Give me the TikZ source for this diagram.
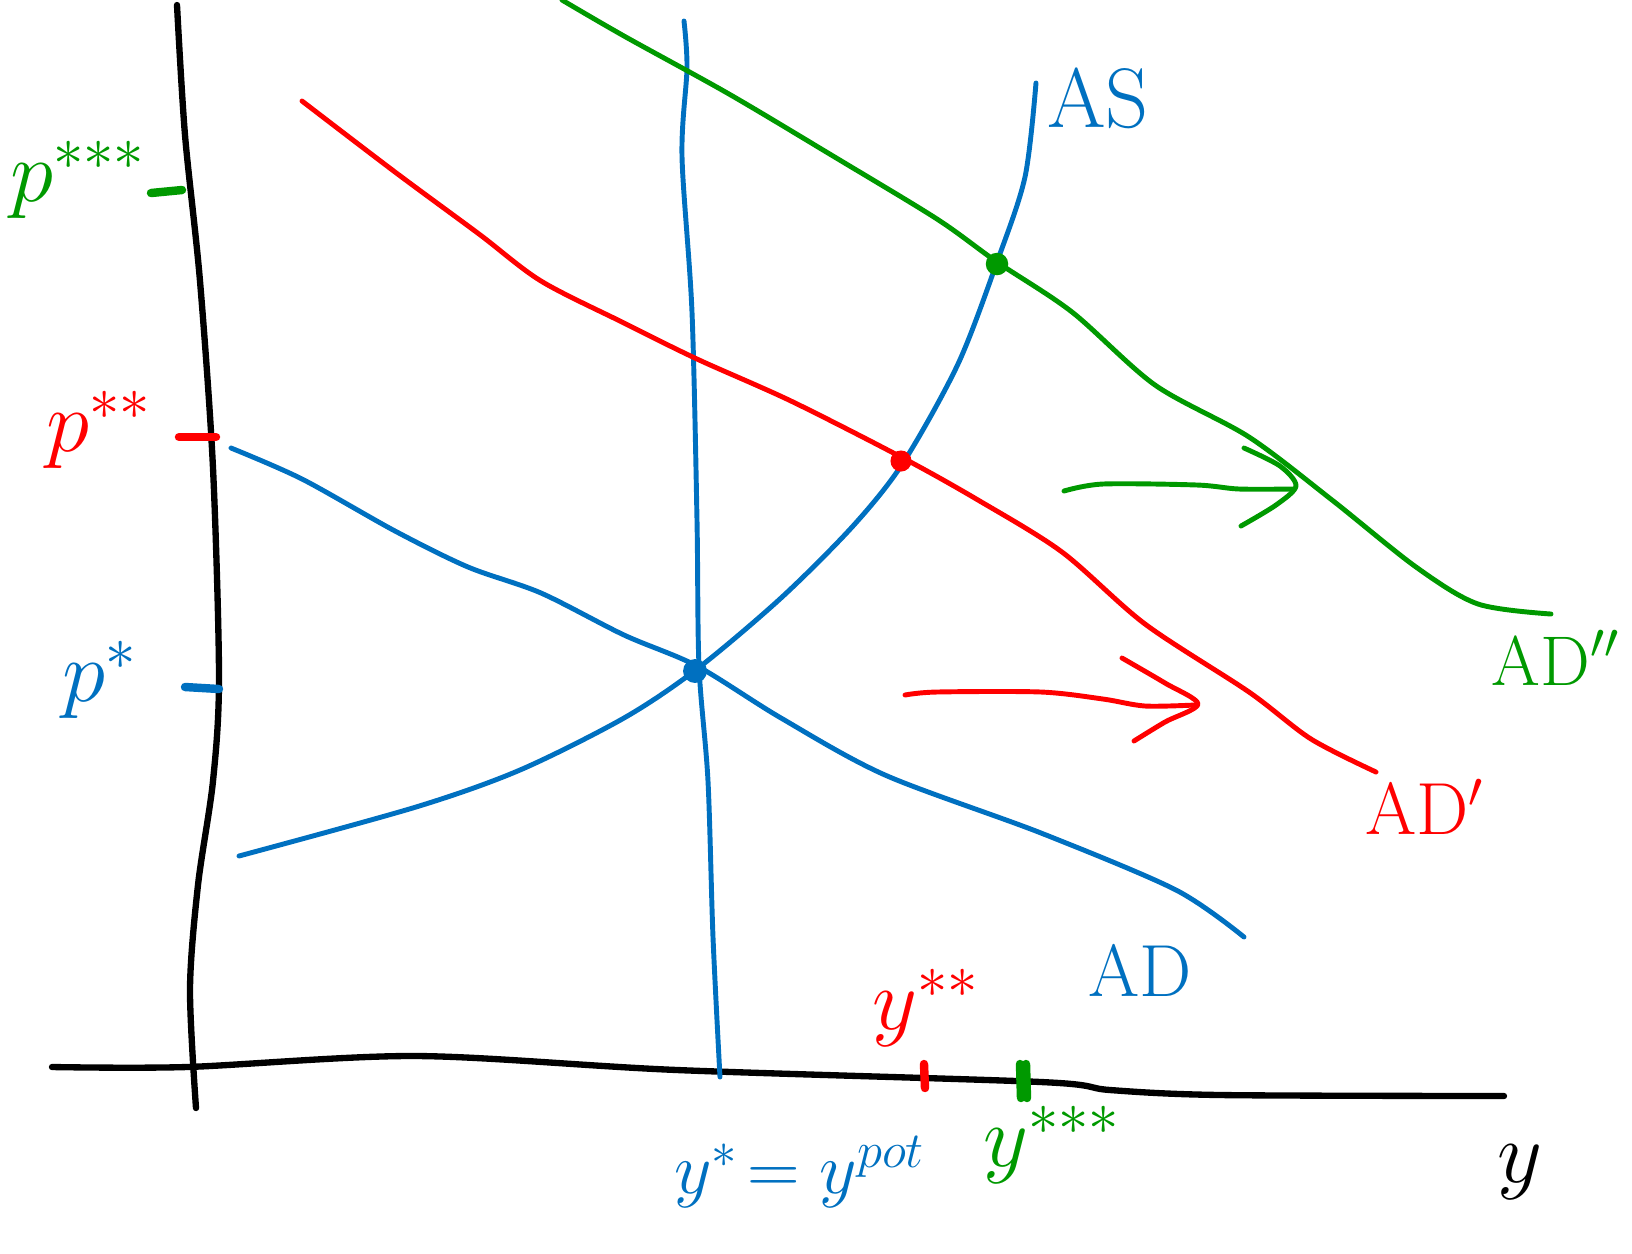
\documentclass[tikz,border=0pt]{standalone}
\usetikzlibrary{calc}
\definecolor{cblue}{RGB}{0,112,192}
\definecolor{cred}{RGB}{255,0,0}
\definecolor{cgreen}{RGB}{0,153,0}
\tikzset{pen/.style={line width=1.4pt,line cap=round,line join=round},
         tick/.style={line width=2.4pt,line cap=round},
         hand/.style={font=\fontsize{24}{26}\selectfont,inner sep=0pt}}

\begin{document}
\begin{tikzpicture}[x=0.01cm,y=-0.01cm]
    \useasboundingbox (0,0) rectangle (1632,1253);
    % axes
    \draw[pen,line width=1.8pt] plot[smooth] coordinates {(177,5) (185,135) (200,281) (213,468) (219,677) (213,781) (198,885) (190,989) (196,1108)};
    \draw[pen,line width=1.8pt] plot[smooth] coordinates {(52,1067) (187,1067) (416,1056) (677,1070) (1041,1082) (1110,1090) (1220,1095) (1504,1096)};
    \node[hand,font=\fontsize{48}{50}\selectfont] (yaxis) at (1520,1172) {$y$};
    % potential output
    \draw[pen,cblue] plot[smooth] coordinates {(684,21) (687,68) (682,156) (692,312) (697,520) (699,666) (708,781) (713,937) (720,1077)};
    % AS
    \draw[pen,cblue] plot[smooth] coordinates {(239,856) (416,807) (520,770) (624,718) (697,669) (781,598) (853,526) (903,463) (958,364) (997,262) (1025,177) (1036,83)};
    \node[hand,cblue] (as) at (1098,98) {AS};
    % AD, AD', AD''
    \draw[pen,cblue] plot[smooth] coordinates {(231,448) (302,479) (395,531) (468,567) (541,593) (624,635) (697,666) (781,718) (885,775) (1041,833) (1176,890) (1244,937)};
    \node[hand,cblue,font=\fontsize{21}{23}\selectfont] (ad) at (1140,970) {AD};
    \draw[pen,cred] plot[smooth] coordinates {(302,101) (395,172) (479,234) (541,281) (624,323) (697,359) (791,401) (903,458) (978,500) (1062,552) (1145,624) (1249,692) (1311,739) (1376,772)};
    \node[hand,cred,font=\fontsize{21}{23}\selectfont] (adone) at (1425,807) {AD$'$};
    \draw[pen,cgreen] plot[smooth] coordinates {(562,0) (624,36) (729,94) (833,156) (937,219) (997,262) (1072,312) (1155,385) (1249,437) (1332,500) (1416,567) (1478,604) (1551,614)};
    \node[hand,cgreen,font=\fontsize{20}{22}\selectfont] (adtwo) at (1556,658) {AD$''$};
    % equilibria
    \fill[cblue] (695,671) circle (3.4pt);
    \fill[cred] (901,461) circle (3pt);
    \fill[cgreen] (997,264) circle (3.2pt);
    % shifts
    \draw[pen,cgreen] plot[smooth] coordinates {(1064,491) (1103,484) (1197,485) (1239,489) (1294,489)};
    \draw[pen,cgreen] plot[smooth] coordinates {(1244,448) (1280,466) (1296,486) (1276,505) (1241,526)};
    \draw[pen,cred] plot[smooth] coordinates {(905,695) (937,692) (1041,692) (1103,699) (1145,706) (1195,705)};
    \draw[pen,cred] plot[smooth] coordinates {(1122,658) (1165,683) (1198,704) (1165,722) (1134,741)};
    % price levels
    \draw[tick,cgreen] (151,193) -- (182,190);
    \node[hand,cgreen] (pthree) at (78,180) {$p^{***}$};
    \draw[tick,cred] (179,437) -- (216,437);
    \node[hand,cred] (ptwo) at (99,430) {$p^{**}$};
    \draw[tick,cblue] (185,687) -- (219,689);
    \node[hand,cblue] (pone) at (100,680) {$p^{*}$};
    % output levels
    \draw[tick,cred] (924,1064) -- (925,1088);
    \node[hand,cred] (ytwo) at (926,1008) {$y^{**}$};
    \draw[tick,cgreen] (1020,1064) -- (1021,1098);
    \draw[tick,cgreen] (1026,1064) -- (1027,1098);
    \node[hand,cgreen] (ythree) at (1052,1145) {$y^{***}$};
    \node[hand,cblue,font=\fontsize{22}{24}\selectfont] (yone) at (800,1172) {$y^{*}\!=y^{pot}$};
\end{tikzpicture}
\end{document}
